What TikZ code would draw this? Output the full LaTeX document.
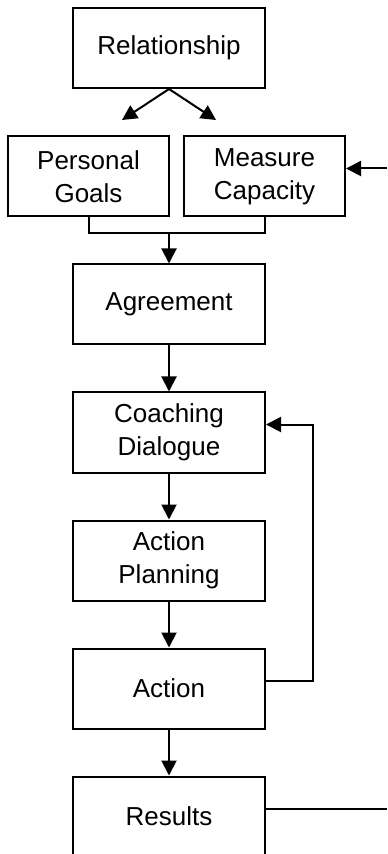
\documentclass[tikz,border=0pt]{standalone}
\usepackage{fontspec}
\setmainfont{Liberation Sans}
\usepackage{tikz}
\usetikzlibrary{arrows.meta}
\newcommand\BoxW{96pt}
\newcommand\BoxH{40pt}
\newcommand\SideW{80.5pt}
\newcommand\Center{84.5pt}
\newcommand\Step{64pt}
\newcommand\Top{-152.25pt}
\newcommand\RightEdge{193.5pt}
\tikzstyle{stage}=[rectangle,draw,line width=1pt,align=center,inner sep=0pt,
                     minimum width=\BoxW,minimum height=\BoxH,
                     font=\fontsize{13}{16.5}\selectfont]
\tikzstyle{side}=[stage,minimum width=\SideW]
\tikzstyle{link}=[line width=1pt,-{Triangle[length=7.5pt,width=7.5pt]}]
\tikzstyle{wire}=[line width=1pt]

\begin{document}
\begin{tikzpicture}
      \useasboundingbox (0,0) rectangle (\RightEdge,-427pt);
      \node[stage] (rel) at (\Center,-24pt) {Relationship};
      \node[side] (goals) at (44.25pt,-88.25pt) {Personal\\Goals};
      \node[side] (capacity) at (132.25pt,-88.25pt) {Measure\\Capacity};
      \node[stage] (agree) at (\Center,\Top) {Agreement};
      \node[stage] (coach) at (\Center,\Top-\Step*1) {Coaching\\Dialogue};
      \node[stage] (plan) at (\Center,\Top-\Step*2) {Action\\Planning};
      \node[stage] (act) at (\Center,\Top-\Step*3) {Action};
      \node[stage] (res) at (\Center,\Top-\Step*4) {Results};
      % free ends
      \coordinate (toGoals) at (61pt,-60pt);
      \coordinate (toCapacity) at (108pt,-60pt);
      \coordinate (merge) at (\Center,-116.5pt);
      \coordinate (feedIn) at (\RightEdge,-84.25pt);
      \coordinate (feedOut) at (\RightEdge,-404.5pt);
      \coordinate (loop) at (156.5pt,0);
      % connectors
      \draw[link] (rel.south) -- (toGoals);
      \draw[link] (rel.south) -- (toCapacity);
      \draw[link] (feedIn) -- (feedIn -| capacity.east);
      \draw[wire] (goals.south) |- (merge) -| (capacity.south);
      \draw[link] (merge) -- (agree.north);
      \draw[link] (agree) -- (coach);
      \draw[link] (coach) -- (plan);
      \draw[link] (plan) -- (act);
      \draw[link] (act) -- (res);
      \draw[link] ([yshift=4pt]act.east) -- ([yshift=4pt]act.east -| loop)
            -- ([yshift=4pt]coach.east -| loop) -- ([yshift=4pt]coach.east);
      \draw[wire] (feedOut -| res.east) -- (feedOut);
   \end{tikzpicture}
\end{document}
